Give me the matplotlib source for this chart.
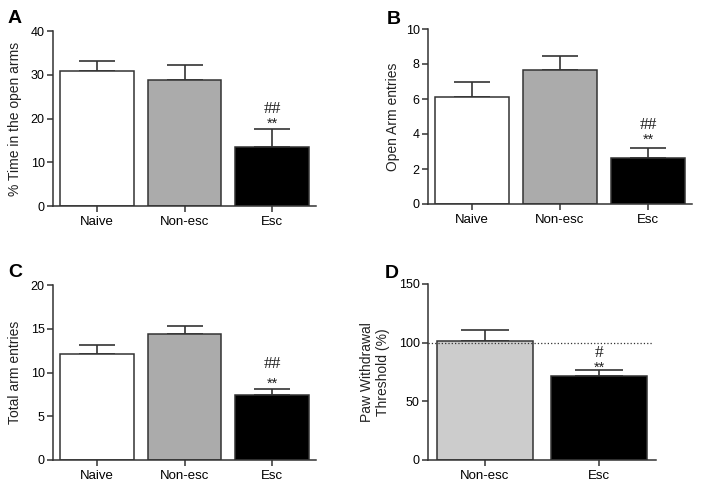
"""Four-panel bar chart: elevated plus maze measures and paw withdrawal threshold."""

import matplotlib

matplotlib.use("Agg")
import matplotlib.pyplot as plt

plt.rcParams["font.family"] = ["Liberation Sans", "DejaVu Sans"]

# ---- data ------------------------------------------------------------------
groups_maze = ["Naive", "Non-esc", "Esc"]
groups_paw = ["Non-esc", "Esc"]

time_open_mean = [30.8, 28.9, 13.6]
time_open_sem = [2.3, 3.4, 3.9]

open_entries_mean = [6.1, 7.67, 2.65]
open_entries_sem = [0.85, 0.76, 0.57]

total_entries_mean = [12.13, 14.37, 7.45]
total_entries_sem = [1.0, 1.0, 0.72]

paw_mean = [101.0, 71.2]
paw_sem = [9.4, 5.4]

# (hash marks, asterisks) per bar
sig_time_open = [None, None, ("##", "**")]
sig_open_entries = [None, None, ("##", "**")]
sig_total_entries = [None, None, ("##", "**")]
sig_paw = [None, ("#", "**")]

EDGE = "#333333"
MAZE_COLORS = ["white", "#ababab", "black"]
PAW_COLORS = ["#cccccc", "black"]

W, H = 701, 488

# glyph centre above baseline, in pixels, for the chosen sizes
STAR_SIZE, HASH_SIZE = 10.5, 12.5
STAR_RISE = 0.58 * STAR_SIZE / 0.72
HASH_RISE = 0.34 * HASH_SIZE / 0.72


def px_box(left, right, top, bottom):
    return [left / W, 1 - bottom / H, (right - left) / W, (bottom - top) / H]


def bar_panel(fig, box, groups, means, sems, colors, ylim, yticks, ylabel,
              label_x, sig, sig_offsets):
    ax = fig.add_axes(px_box(*box))
    x = list(range(len(groups)))
    ax.bar(x, means, width=0.84, color=colors, edgecolor=EDGE, linewidth=1.1,
           zorder=2)
    # cap half as wide as the bar
    ax_w_px = box[1] - box[0]
    cap_px = 0.84 * ax_w_px / (len(groups)) / 4
    ax.errorbar(x, means, yerr=[[0] * len(means), sems], fmt="none",
                ecolor=EDGE, elinewidth=1.2, capsize=cap_px * 0.72,
                capthick=1.2, zorder=1)
    star_off, hash_off = sig_offsets
    for xi, m, s, marks in zip(x, means, sems, sig):
        if marks is None:
            continue
        hashes, stars = marks
        ax.annotate(stars, (xi, m + s), xytext=(0, star_off - STAR_RISE),
                    textcoords="offset pixels", ha="center", va="baseline",
                    fontsize=STAR_SIZE, color="#222222")
        ax.annotate(hashes, (xi, m + s), xytext=(0, hash_off - HASH_RISE),
                    textcoords="offset pixels", ha="center", va="baseline",
                    fontsize=HASH_SIZE, color="#222222",
                    family=["Liberation Serif", "DejaVu Serif"])

    ax.set_xlim(-0.5, len(groups) - 0.5)
    ax.set_ylim(*ylim)
    ax.set_yticks(yticks)
    ax.set_xticks(x)
    ax.set_xticklabels(groups, fontsize=9.5)
    ax.tick_params(axis="y", labelsize=9, length=4, width=1.1, pad=2,
                   color=EDGE)
    ax.tick_params(axis="x", length=4, width=1.1, pad=3, color=EDGE)
    for side in ("top", "right"):
        ax.spines[side].set_visible(False)
    for side in ("left", "bottom"):
        ax.spines[side].set_linewidth(1.1)
        ax.spines[side].set_color(EDGE)
    ax.set_ylabel(ylabel, fontsize=10, va="center", color="#222222")
    ax.yaxis.set_label_coords(label_x, 0.5)
    return ax


fig = plt.figure(figsize=(W / 100, H / 100), dpi=100)

bar_panel(fig, (53, 316, 31, 206), groups_maze, time_open_mean, time_open_sem,
          MAZE_COLORS, (0, 40), [0, 10, 20, 30, 40],
          "% Time in the open arms", -0.145, sig_time_open, (10, 22.5))

bar_panel(fig, (428, 692, 29, 204), groups_maze, open_entries_mean,
          open_entries_sem, MAZE_COLORS, (0, 10), [0, 2, 4, 6, 8, 10],
          "Open Arm entries", -0.133, sig_open_entries, (12, 25))

bar_panel(fig, (53, 316, 285, 460), groups_maze, total_entries_mean,
          total_entries_sem, MAZE_COLORS, (0, 20), [0, 5, 10, 15, 20],
          "Total arm entries", -0.145, sig_total_entries, (9.5, 26))

ax_d = bar_panel(fig, (428, 656, 284, 460), groups_paw, paw_mean, paw_sem,
                 PAW_COLORS, (0, 150), [0, 50, 100, 150],
                 "Paw Withdrawal\nThreshold (%)", -0.232, sig_paw, (7, 19.5))
ax_d.axhline(100, xmin=0, xmax=0.982, color=EDGE, linestyle=":",
             linewidth=0.9, zorder=3)

for letter, (lx, ly) in zip("ABCD", [(8, 23), (387, 24), (8, 277), (385, 278)]):
    fig.text(lx / W, 1 - ly / H, letter, fontsize=14, fontweight="bold",
             ha="left", va="baseline")

fig.savefig("out.png", dpi=100)
